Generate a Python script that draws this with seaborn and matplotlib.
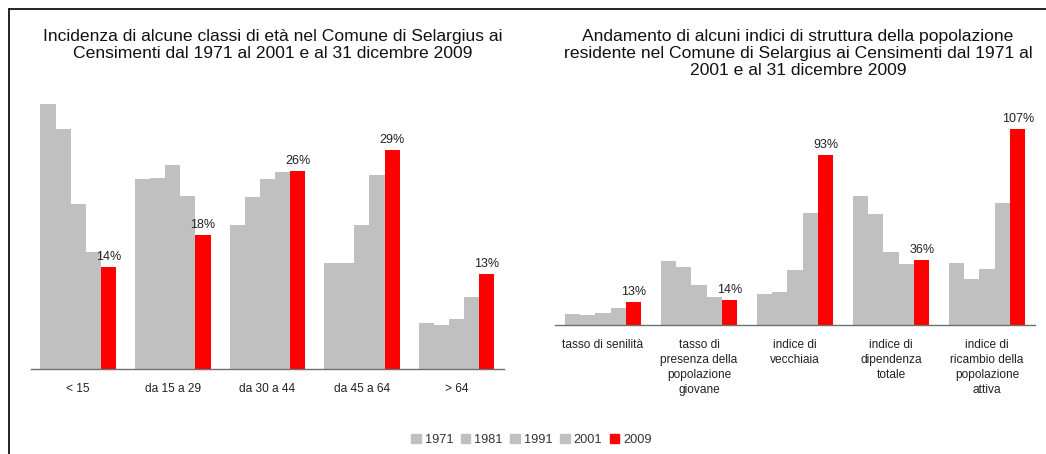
import pandas as pd
import matplotlib.pyplot as plt
import seaborn as sns
from matplotlib.lines import Line2D

# dati
anni = ['1971', '1981', '1991', '2001', '2009']
classi = ['< 15', 'da 15 a 29', 'da 30 a 44', 'da 45 a 64', '> 64']
classi_1971 = [35.3, 25.3, 19.2, 14.1, 6.1]
classi_1981 = [32.0, 25.5, 22.9, 14.1, 5.9]
classi_1991 = [22.0, 27.2, 25.3, 19.2, 6.7]
classi_2001 = [15.6, 23.1, 26.3, 25.9, 9.6]
classi_2009 = [13.6, 17.8, 26.4, 29.1, 12.7]
etichette_classi = ['14%', '18%', '26%', '29%', '13%']

indici = ['tasso di senilità', 'tasso di\npresenza della\npopolazione\ngiovane',
          'indice di\nvecchiaia', 'indice di\ndipendenza\ntotale',
          'indice di\nricambio della\npopolazione\nattiva']
indici_1971 = [6.2, 35.0, 17.1, 70.7, 34.1]
indici_1981 = [5.6, 31.8, 18.2, 60.9, 25.3]
indici_1991 = [6.7, 22.0, 30.2, 40.1, 30.7]
indici_2001 = [9.5, 15.5, 61.4, 33.5, 66.9]
indici_2009 = [12.7, 13.8, 93.0, 35.7, 107.0]
etichette_indici = ['13%', '14%', '93%', '36%', '107%']

GRIGIO = '#c0c0c0'
ROSSO = '#ff0000'
colori = [GRIGIO] * 4 + [ROSSO]


def long_df(cat, serie):
    righe = []
    for anno, valori in zip(anni, serie):
        for c, v in zip(cat, valori):
            righe.append({'cat': c, 'anno': anno, 'valore': v})
    return pd.DataFrame(righe)


def disegna(ax, df, cat, etichette, ymax, fs_tick):
    sns.barplot(data=df, x='cat', y='valore', hue='anno', palette=colori,
                saturation=1, width=0.8, ax=ax, legend=False, linewidth=0)
    ax.set_ylim(0, ymax)
    ax.set_xlim(-0.5, len(cat) - 0.5)
    ax.bar_label(ax.containers[4], labels=etichette, padding=3, fontsize=9, color='#222222')
    for s in ['top', 'right', 'left']:
        ax.spines[s].set_visible(False)
    ax.spines['bottom'].set_color('#707070')
    ax.spines['bottom'].set_linewidth(1.0)
    ax.set_yticks([])
    ax.set_xlabel('')
    ax.set_ylabel('')
    ax.set_xticks(range(len(cat)))
    ax.set_xticklabels(cat, fontsize=fs_tick, color='#222222', va='top', linespacing=1.35)
    ax.tick_params(axis='x', which='major', length=0, pad=10)
    ax.set_xticks([i - 0.5 for i in range(len(cat) + 1)], minor=True)
    ax.tick_params(axis='x', which='minor', length=4, width=0.8, color='#404040', direction='out')


sns.set_theme(style='white')
plt.rcParams['font.family'] = ['Liberation Sans', 'DejaVu Sans']

fig = plt.figure(figsize=(10.46, 4.54), dpi=100)

ax1 = fig.add_axes([0.0296, 0.187, 0.452, 0.604])
df1 = long_df(classi, [classi_1971, classi_1981, classi_1991, classi_2001, classi_2009])
disegna(ax1, df1, classi, etichette_classi, 36.5, 8.6)

ax2 = fig.add_axes([0.5306, 0.284, 0.4589, 0.4515])
df2 = long_df(indici, [indici_1971, indici_1981, indici_1991, indici_2001, indici_2009])
disegna(ax2, df2, indici, etichette_indici, 112, 8.6)

fig.text(0.261, 0.936, 'Incidenza di alcune classi di età nel Comune di Selargius ai\n'
         'Censimenti dal 1971 al 2001 e al 31 dicembre 2009',
         ha='center', va='top', fontsize=12.6, linespacing=1.18, color='#111111')
fig.text(0.763, 0.936, 'Andamento di alcuni indici di struttura della popolazione\n'
         'residente nel Comune di Selargius ai Censimenti dal 1971 al\n'
         '2001 e al 31 dicembre 2009',
         ha='center', va='top', fontsize=12.6, linespacing=1.18, color='#111111')

# cornice
fig.add_artist(Line2D([0.0086, 0.0086], [0.0, 0.980], transform=fig.transFigure, color='black', lw=1.2))
fig.add_artist(Line2D([0.0086, 1.0], [0.980, 0.980], transform=fig.transFigure, color='black', lw=1.2))

maniglie = [plt.Rectangle((0, 0), 1, 1, color=c) for c in colori]
fig.legend(maniglie, anni, loc='center', bbox_to_anchor=(0.508, 0.031), ncol=5,
           frameon=False, fontsize=9.2, handlelength=0.75, handleheight=0.75,
           handletextpad=0.3, columnspacing=0.6, labelcolor='#333333')

fig.savefig('out.png', dpi=100)
